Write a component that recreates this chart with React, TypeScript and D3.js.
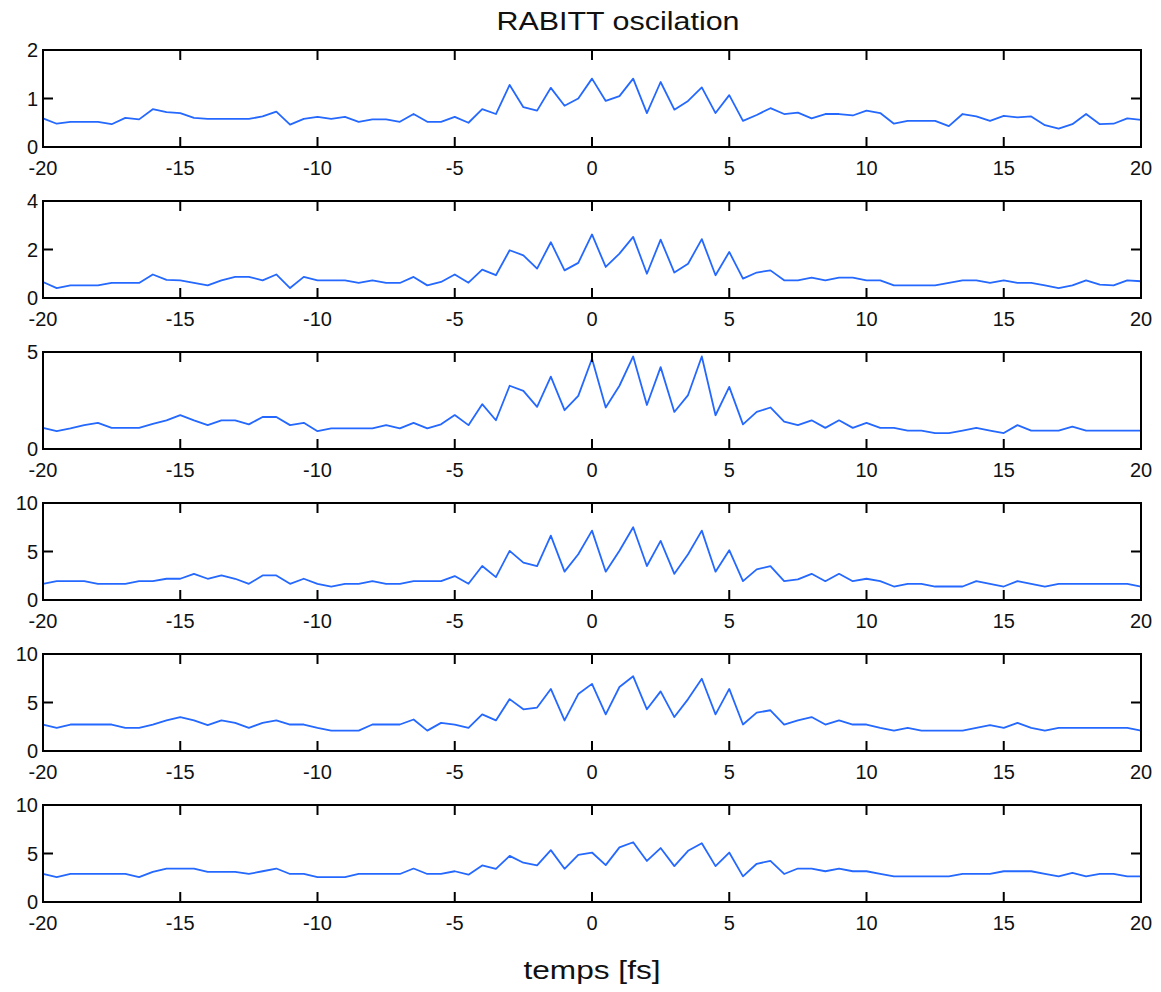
import React from "react";
import * as d3 from "d3";

const timeFs = d3.range(-20, 20.0001, 0.5);

const series1 = [
  0.59, 0.48, 0.52, 0.52, 0.52, 0.47, 0.6, 0.57, 0.78, 0.72,
  0.7, 0.6, 0.58, 0.58, 0.58, 0.58, 0.63, 0.73, 0.46, 0.58,
  0.62, 0.58, 0.62, 0.52, 0.57, 0.57, 0.52, 0.68, 0.52, 0.52,
  0.62, 0.5, 0.78, 0.68, 1.28, 0.82, 0.75, 1.22, 0.85, 1.0,
  1.41, 0.95, 1.05, 1.41, 0.7, 1.34, 0.77, 0.95, 1.23, 0.7,
  1.07, 0.54, 0.66, 0.8, 0.68, 0.71, 0.59, 0.68, 0.68, 0.65,
  0.75, 0.7, 0.48, 0.54, 0.54, 0.54, 0.43, 0.68, 0.63, 0.54,
  0.64, 0.61, 0.63, 0.45, 0.38, 0.47, 0.68, 0.47, 0.48, 0.59,
  0.56,
];

const series2 = [
  0.66, 0.41, 0.52, 0.52, 0.52, 0.62, 0.62, 0.62, 0.97, 0.75,
  0.73, 0.62, 0.52, 0.73, 0.87, 0.87, 0.73, 0.97, 0.41, 0.87,
  0.73, 0.73, 0.73, 0.62, 0.73, 0.62, 0.62, 0.87, 0.52, 0.66,
  0.97, 0.63, 1.17, 0.94, 1.97, 1.76, 1.21, 2.3, 1.14, 1.45,
  2.62, 1.28, 1.83, 2.52, 1.0, 2.41, 1.05, 1.41, 2.43, 0.94,
  1.9, 0.8, 1.05, 1.14, 0.73, 0.73, 0.84, 0.73, 0.84, 0.84,
  0.73, 0.73, 0.52, 0.52, 0.52, 0.52, 0.62, 0.73, 0.73, 0.62,
  0.73, 0.62, 0.62, 0.52, 0.41, 0.52, 0.73, 0.55, 0.52, 0.73,
  0.69,
];

const series3 = [
  1.09, 0.92, 1.06, 1.23, 1.35, 1.09, 1.09, 1.09, 1.3, 1.48,
  1.75, 1.48, 1.23, 1.48, 1.48, 1.27, 1.65, 1.65, 1.23, 1.35,
  0.92, 1.06, 1.06, 1.06, 1.06, 1.23, 1.06, 1.35, 1.06, 1.27,
  1.75, 1.23, 2.31, 1.48, 3.26, 3.0, 2.17, 3.73, 2.0, 2.74,
  4.65, 2.14, 3.26, 4.77, 2.27, 4.22, 1.91, 2.78, 4.77, 1.74,
  3.2, 1.27, 1.91, 2.14, 1.41, 1.23, 1.48, 1.09, 1.48, 1.09,
  1.35, 1.09, 1.09, 0.95, 0.95, 0.82, 0.82, 0.95, 1.09, 0.95,
  0.82, 1.23, 0.95, 0.95, 0.95, 1.15, 0.95, 0.95, 0.95, 0.95,
  0.95,
];

const series4 = [
  1.67, 1.94, 1.94, 1.94, 1.67, 1.67, 1.67, 1.94, 1.94, 2.19,
  2.19, 2.7, 2.19, 2.53, 2.19, 1.67, 2.53, 2.53, 1.67, 2.19,
  1.67, 1.39, 1.67, 1.67, 1.94, 1.67, 1.67, 1.94, 1.94, 1.94,
  2.47, 1.67, 3.5, 2.36, 5.07, 3.85, 3.5, 6.63, 2.92, 4.72,
  7.15, 2.92, 5.07, 7.5, 3.5, 6.1, 2.7, 4.72, 7.15, 2.92,
  5.14, 1.94, 3.16, 3.5, 1.94, 2.12, 2.7, 1.94, 2.7, 1.94,
  2.19, 1.94, 1.39, 1.67, 1.67, 1.39, 1.39, 1.39, 1.94, 1.67,
  1.39, 1.94, 1.67, 1.39, 1.67, 1.67, 1.67, 1.67, 1.67, 1.67,
  1.39,
];

const series5 = [
  2.73, 2.38, 2.73, 2.73, 2.73, 2.73, 2.38, 2.38, 2.73, 3.15,
  3.5, 3.15, 2.66, 3.15, 2.9, 2.38, 2.9, 3.15, 2.73, 2.73,
  2.38, 2.1, 2.1, 2.1, 2.73, 2.73, 2.73, 3.25, 2.1, 2.9,
  2.73, 2.38, 3.78, 3.15, 5.35, 4.3, 4.48, 6.4, 3.15, 5.87,
  6.92, 3.78, 6.6, 7.7, 4.3, 6.15, 3.5, 5.35, 7.45, 3.78,
  6.4, 2.73, 3.95, 4.2, 2.73, 3.15, 3.5, 2.73, 3.15, 2.73,
  2.73, 2.38, 2.1, 2.38, 2.1, 2.1, 2.1, 2.1, 2.38, 2.66,
  2.38, 2.9, 2.38, 2.1, 2.38, 2.38, 2.38, 2.38, 2.38, 2.38,
  2.1,
];

const series6 = [
  2.89, 2.57, 2.89, 2.89, 2.89, 2.89, 2.89, 2.57, 3.1, 3.45,
  3.45, 3.45, 3.1, 3.1, 3.1, 2.89, 3.17, 3.45, 2.89, 2.89,
  2.57, 2.57, 2.57, 2.89, 2.89, 2.89, 2.89, 3.45, 2.89, 2.89,
  3.17, 2.82, 3.77, 3.42, 4.75, 4.05, 3.77, 5.35, 3.42, 4.86,
  5.1, 3.8, 5.63, 6.16, 4.23, 5.56, 3.7, 5.28, 6.06, 3.7,
  5.1, 2.64, 3.94, 4.23, 2.89, 3.45, 3.45, 3.17, 3.45, 3.17,
  3.17, 2.89, 2.64, 2.64, 2.64, 2.64, 2.64, 2.89, 2.89, 2.89,
  3.17, 3.17, 3.17, 2.89, 2.64, 3.0, 2.64, 2.89, 2.89, 2.64,
  2.64,
];

const allSeries = [series1, series2, series3, series4, series5, series6];
const yMaxes = [2, 4, 5, 10, 10, 10];
const yTickSets = [
  [0, 1, 2],
  [0, 2, 4],
  [0, 5],
  [0, 5, 10],
  [0, 5, 10],
  [0, 5, 10],
];
const xTicks = [-20, -15, -10, -5, 0, 5, 10, 15, 20];
const titleText = "RABITT oscilation";
const xLabelText = "temps [fs]";

const FONT = "'Liberation Sans', Arial, Helvetica, sans-serif";
const LINE_COLOR = "#2468ff";
const TEXT_COLOR = "#111";

export default function App() {
  const W = 1161;
  const H = 992;
  const left = 43;
  const right = 1141;
  const top0 = 50;
  const stepY = 151;
  const ph = 97;
  const tickLen = 10;

  const x = d3.scaleLinear().domain([-20, 20]).range([left, right]);

  return (
    <svg
      width={W}
      height={H}
      style={{ position: "absolute", left: 0, top: 0, background: "#fff" }}
    >
      <rect x={0} y={0} width={W} height={H} fill="#fff" />
      <text
        x={618}
        y={30}
        textAnchor="middle"
        fontFamily={FONT}
        fontSize={26}
        textLength={243}
        lengthAdjust="spacingAndGlyphs"
        fill={TEXT_COLOR}
      >
        {titleText}
      </text>
      {allSeries.map((vals, k) => {
        const top = top0 + k * stepY;
        const bottom = top + ph;
        const y = d3.scaleLinear().domain([0, yMaxes[k]]).range([bottom, top]);
        const line = d3
          .line<number>()
          .x((_, i) => x(timeFs[i]))
          .y((d) => y(d));
        return (
          <g key={k}>
            <path
              d={line(vals) || ""}
              fill="none"
              stroke={LINE_COLOR}
              strokeWidth={1.8}
              strokeLinejoin="round"
            />
            {xTicks.map((t) => (
              <g key={"xt" + t}>
                <line x1={x(t)} x2={x(t)} y1={bottom} y2={bottom - tickLen} stroke="#000" strokeWidth={2} />
                <line x1={x(t)} x2={x(t)} y1={top} y2={top + tickLen} stroke="#000" strokeWidth={2} />
                <text
                  x={x(t)}
                  y={bottom + 28}
                  textAnchor="middle"
                  fontFamily={FONT}
                  fontSize={20}
                  fill={TEXT_COLOR}
                >
                  {String(t)}
                </text>
              </g>
            ))}
            {yTickSets[k].map((v) => (
              <g key={"yt" + v}>
                <line x1={left} x2={left + tickLen} y1={y(v)} y2={y(v)} stroke="#000" strokeWidth={2} />
                <line x1={right} x2={right - tickLen} y1={y(v)} y2={y(v)} stroke="#000" strokeWidth={2} />
                <text
                  x={left - 5}
                  y={y(v) + 7}
                  textAnchor="end"
                  fontFamily={FONT}
                  fontSize={20}
                  fill={TEXT_COLOR}
                >
                  {String(v)}
                </text>
              </g>
            ))}
            <rect
              x={left}
              y={top}
              width={right - left}
              height={ph}
              fill="none"
              stroke="#000"
              strokeWidth={2}
            />
          </g>
        );
      })}
      <text
        x={(left + right) / 2}
        y={979}
        textAnchor="middle"
        fontFamily={FONT}
        fontSize={26}
        textLength={137}
        lengthAdjust="spacingAndGlyphs"
        fill={TEXT_COLOR}
      >
        {xLabelText}
      </text>
    </svg>
  );
}
